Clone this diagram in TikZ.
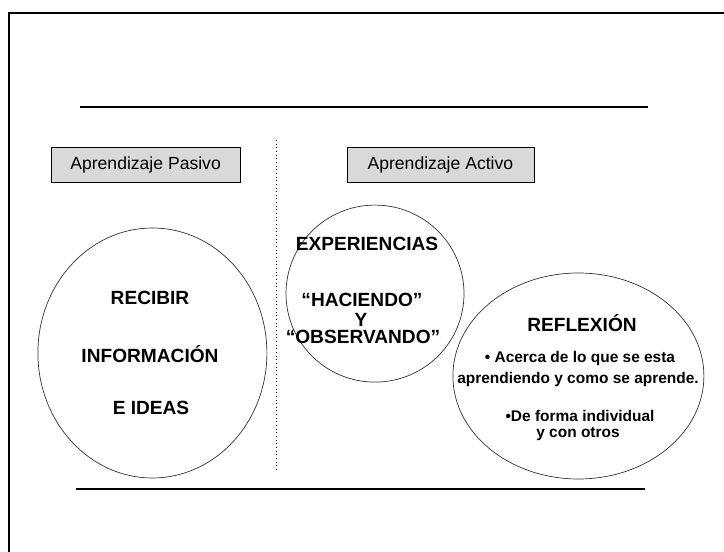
\documentclass[tikz,border=0pt]{standalone}
\usepackage{fontspec}
\setmainfont{Liberation Sans}
\usetikzlibrary{shapes.geometric}

\begin{document}
\begin{tikzpicture}
			\tikzset{titlebox/.style={draw,fill=gray!30,inner sep=0pt,minimum height=0.88cm,font=\fontsize{12.5}{15}\selectfont}}
			\tikzset{bubble/.style={draw=black!80,ellipse,line width=0.5pt}}
			\tikzset{bigtext/.style={font=\bfseries\fontsize{13.6}{15}\selectfont}}
			\tikzset{smalltext/.style={font=\bfseries\fontsize{11}{13}\selectfont}}
			\tikzset{rule/.style={line width=0.8pt}}
			\useasboundingbox (0,0) rectangle (18.1,13.8);
			% frame and rules
			\draw[line width=1.4pt] (0.225,0) -- (0.225,13.475) -- (18.1,13.475);
			\draw[rule] (2.0,11.125) -- (16.2,11.125);
			\draw[rule] (1.9,1.575) -- (16.125,1.575);
			\draw[dotted,line width=0.6pt] (6.9,10.3) -- (6.9,2.05);
			% titles
			\node[titlebox,minimum width=4.725cm] (pasivo) at (3.64,9.675) {Aprendizaje Pasivo};
			\node[titlebox,minimum width=4.675cm] (activo) at (11.01,9.675) {Aprendizaje Activo};
			% bubbles
			\node[bubble,minimum width=5.725cm,minimum height=6.25cm] (recibir) at (3.81,4.975) {};
			\node[bubble,minimum width=4.45cm,minimum height=4.425cm] (experiencias) at (9.375,6.46) {};
			\node[bubble,minimum width=6.275cm,minimum height=5.15cm] (reflexion) at (14.46,4.4) {};
			% texts
			\node[bigtext] (t1) at (3.75,6.35) {RECIBIR};
			\node[bigtext] (t2) at (3.75,4.95) {INFORMACIÓN};
			\node[bigtext] (t3) at (3.775,3.6) {E IDEAS};
			\node[bigtext] (t4) at (9.175,7.7) {EXPERIENCIAS};
			\node[bigtext] (t5) at (9.05,6.3) {“HACIENDO”};
			\node[bigtext] (t6) at (9.025,5.8) {Y};
			\node[bigtext] (t7) at (9.075,5.375) {“OBSERVANDO”};
			\node[bigtext] (t8) at (14.55,5.725) {REFLEXIÓN};
			\node[smalltext] (t9) at (14.5,4.825) {• Acerca de lo que se esta};
			\node[smalltext] (t10) at (14.45,4.3) {aprendiendo y como se aprende.};
			\node[smalltext] (t11) at (14.5,3.4) {•De forma individual};
			\node[smalltext] (t12) at (14.45,2.95) {y con otros};
		\end{tikzpicture}
\end{document}
